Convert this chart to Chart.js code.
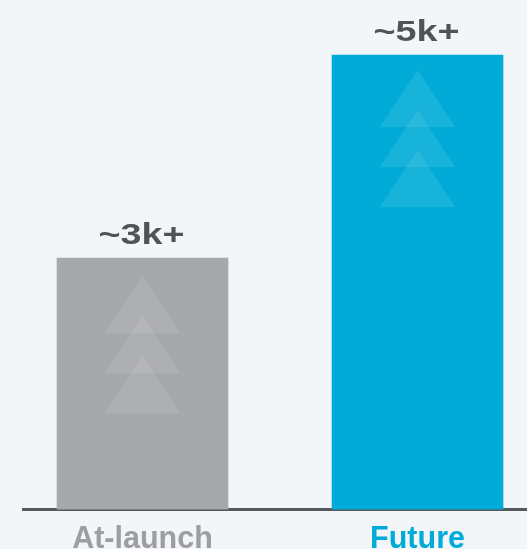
<!DOCTYPE html>
<html>
<head>
<meta charset="utf-8">
<title>Capacity</title>
<script src="https://cdn.jsdelivr.net/npm/chart.js@4.4.1/dist/chart.umd.min.js"></script>
<style>
  html, body { margin: 0; padding: 0; background: #f3f6f9; }
  #wrap { width: 527px; height: 549px; overflow: hidden; }
  #inner { width: 527px; height: 570px; position: relative; }
</style>
</head>
<body>
<div id="wrap"><div id="inner"><canvas id="chart"></canvas></div></div>
<script>
/* ─── Data ─────────────────────────── */
const categories = ['At-launch', 'Future'];
const values = [3000, 5000];
const barColors = ['#a7a8aa', '#00acd7'];
const labelColors = ['#9c9ea1', '#00acd7'];

(function () {
  'use strict';

  const TEXT_DARK = '#505457';
  const AXIS_LINE = '#56595c';

  function valueText(v) {
    return '~' + (v / 1000) + 'k+';
  }

  /* ── faint stacked arrows inside each bar ── */
  const arrowPlugin = {
    id: 'arrows',
    afterDatasetsDraw(chart) {
      const ctx = chart.ctx;
      const meta = chart.getDatasetMeta(0);
      ctx.save();
      ctx.fillStyle = 'rgba(255,255,255,0.09)';
      meta.data.forEach((bar, i) => {
        const top = bar.y + (i === 0 ? 18 : 15);
        for (let k = 0; k < 3; k++) {
          const ay = top + k * 40;
          ctx.beginPath();
          ctx.moveTo(bar.x, ay);
          ctx.lineTo(bar.x + 37.5, ay + 57);
          ctx.lineTo(bar.x - 37.5, ay + 57);
          ctx.closePath();
          ctx.fill();
        }
      });
      ctx.restore();
    },
  };

  /* ── value labels above bars (wide bold) ── */
  const valueLabelPlugin = {
    id: 'valueLabels',
    afterDatasetsDraw(chart) {
      const ctx = chart.ctx;
      const meta = chart.getDatasetMeta(0);
      ctx.save();
      ctx.fillStyle = TEXT_DARK;
      ctx.font = "bold 29px 'Liberation Sans', Arial, sans-serif";
      ctx.textAlign = 'center';
      ctx.textBaseline = 'alphabetic';
      meta.data.forEach((bar, i) => {
        ctx.save();
        ctx.translate(bar.x - 1, bar.y - 14);
        ctx.scale(1.3, 1);
        ctx.fillText(valueText(values[i]), 0, 0);
        ctx.restore();
      });
      ctx.restore();
    },
  };

  const ctx = document.getElementById('chart');

  new Chart(ctx, {
    type: 'bar',
    data: {
      datasets: [{
        data: values.map((v, i) => ({ x: i + 1, y: v })),
        backgroundColor: barColors,
        borderWidth: 0,
        barThickness: 171,
      }],
    },
    options: {
      responsive: true,
      maintainAspectRatio: false,
      animation: false,
      layout: { padding: { left: 23, right: 0, top: 0, bottom: 0 } },
      plugins: {
        legend: { display: false },
        tooltip: { enabled: false },
      },
      scales: {
        x: {
          type: 'linear',
          offset: false,
          min: 0.5655,
          max: 2.398,
          grid: { display: false, drawTicks: false, offset: false },
          border: { display: true, color: AXIS_LINE, width: 3 },
          afterBuildTicks(scale) {
            scale.ticks = categories.map((c, i) => ({ value: i + 1 }));
          },
          ticks: {
            padding: 12,
            maxRotation: 0,
            autoSkip: false,
            font: { family: "'Liberation Sans', Arial, sans-serif", size: 30.5, weight: 'bold' },
            color: (c) => labelColors[c.index] || '#999',
            callback: (v) => categories[Math.round(v) - 1] || '',
          },
        },
        y: {
          display: false,
          min: 523,
          max: 5542,
        },
      },
    },
    plugins: [arrowPlugin, valueLabelPlugin],
  });
})();
</script>
</body>
</html>
